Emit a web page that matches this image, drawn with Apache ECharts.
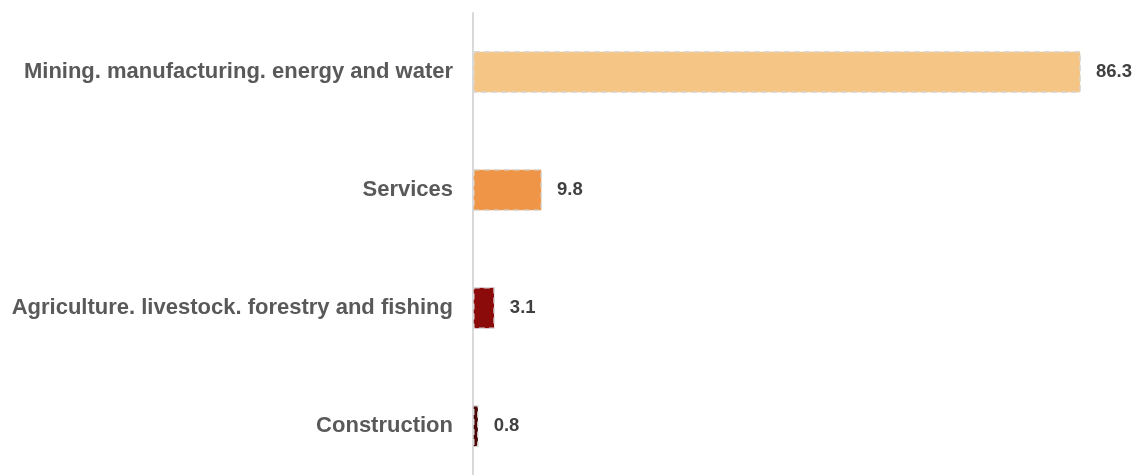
<!DOCTYPE html>
<html><head><meta charset="utf-8">
<script src="https://cdn.jsdelivr.net/npm/echarts@6/dist/echarts.min.js"></script>
<style>html,body{margin:0;padding:0;background:#fff}#c{width:1138px;height:475px}</style>
</head><body><div id="c"></div>
<script>
const categories = ["Mining. manufacturing. energy and water","Services","Agriculture. livestock. forestry and fishing","Construction"];
const values = [86.3, 9.8, 3.1, 0.8];
const colors = ["#F4C585","#EE9548","#8B0A0A","#4A0606"];

const chart = echarts.init(document.getElementById('c'), null, {renderer:'canvas'});
chart.setOption({
  animation:false,
  grid:{left:473, top:13, width:634, height:472, containLabel:false, outerBoundsMode:'none'},
  xAxis:{type:'value', min:0, max:90, show:false},
  yAxis:{type:'category', inverse:true, data:categories,
    axisLine:{show:true, lineStyle:{color:'#d9d9d9', width:2}},
    axisTick:{show:false},
    axisLabel:{color:'#595959', fontFamily:'Liberation Sans, Arial, sans-serif', fontWeight:'bold', fontSize:22, margin:20}},
  series:[{type:'bar', barWidth:42,
    data: values.map((v,i)=>({value:v, itemStyle:{color:colors[i]}})),
    itemStyle:{borderColor:'#d9d9d9', borderWidth:1.5, borderType:[6,4]},
    label:{show:true, position:'right', distance:15, color:'#404040', fontFamily:'Liberation Sans, Arial, sans-serif', fontWeight:'bold', fontSize:18.5}
  }]
});
</script></body></html>
